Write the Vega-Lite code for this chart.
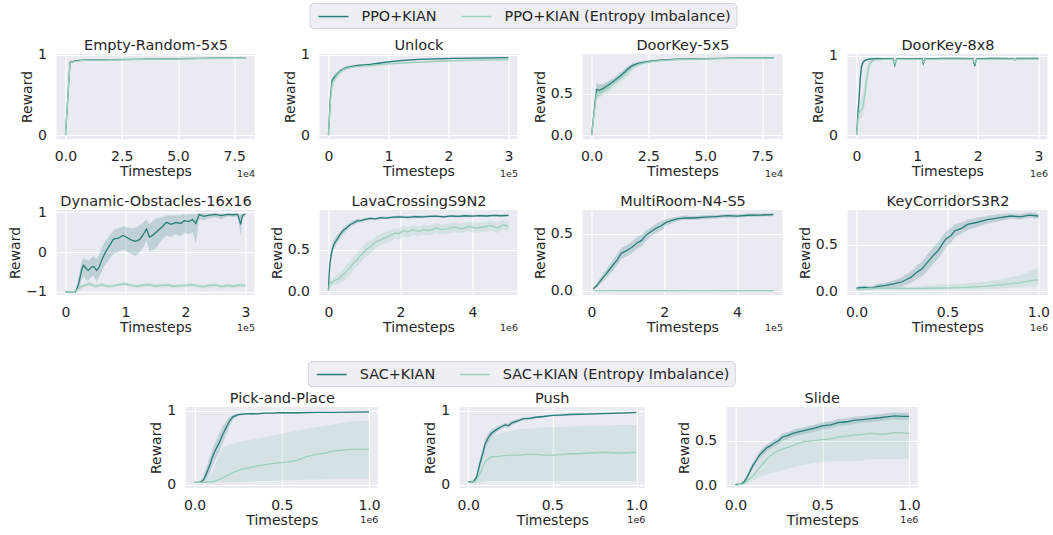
{
"$schema":"https://vega.github.io/schema/vega-lite/v6.json",
"padding":{"left":8,"top":2,"right":2,"bottom":2},
"background":"white",
"datasets":{"d":[
{"p":1,"s":"PPO+KIAN","t":0,"y":0,"lo":0,"hi":0},{"p":1,"s":"PPO+KIAN","t":0.2,"y":0.905,"lo":0.895,"hi":0.915},{"p":1,"s":"PPO+KIAN","t":0.5,"y":0.925,"lo":0.915,"hi":0.935},{"p":1,"s":"PPO+KIAN","t":0.8,"y":0.932,"lo":0.925,"hi":0.94},{"p":1,"s":"PPO+KIAN","t":1.2,"y":0.935,"lo":0.928,"hi":0.942},{"p":1,"s":"PPO+KIAN","t":2,"y":0.938,"lo":0.93,"hi":0.945},{"p":1,"s":"PPO+KIAN","t":3,"y":0.94,"lo":0.933,"hi":0.947},{"p":1,"s":"PPO+KIAN","t":4,"y":0.945,"lo":0.938,"hi":0.952},{"p":1,"s":"PPO+KIAN","t":5,"y":0.95,"lo":0.944,"hi":0.956},{"p":1,"s":"PPO+KIAN","t":6,"y":0.953,"lo":0.947,"hi":0.959},{"p":1,"s":"PPO+KIAN","t":7,"y":0.955,"lo":0.949,"hi":0.961},{"p":1,"s":"PPO+KIAN","t":8,"y":0.958,"lo":0.952,"hi":0.964},
{"p":1,"s":"PPO+KIAN (Entropy Imbalance)","t":0,"y":0,"lo":0,"hi":0},{"p":1,"s":"PPO+KIAN (Entropy Imbalance)","t":0.2,"y":0.9,"lo":0.89,"hi":0.91},{"p":1,"s":"PPO+KIAN (Entropy Imbalance)","t":0.5,"y":0.92,"lo":0.912,"hi":0.928},{"p":1,"s":"PPO+KIAN (Entropy Imbalance)","t":0.8,"y":0.93,"lo":0.922,"hi":0.938},{"p":1,"s":"PPO+KIAN (Entropy Imbalance)","t":1.2,"y":0.932,"lo":0.924,"hi":0.94},{"p":1,"s":"PPO+KIAN (Entropy Imbalance)","t":2,"y":0.935,"lo":0.927,"hi":0.943},{"p":1,"s":"PPO+KIAN (Entropy Imbalance)","t":3,"y":0.938,"lo":0.93,"hi":0.946},{"p":1,"s":"PPO+KIAN (Entropy Imbalance)","t":4,"y":0.942,"lo":0.934,"hi":0.95},{"p":1,"s":"PPO+KIAN (Entropy Imbalance)","t":5,"y":0.946,"lo":0.938,"hi":0.954},{"p":1,"s":"PPO+KIAN (Entropy Imbalance)","t":6,"y":0.95,"lo":0.942,"hi":0.958},{"p":1,"s":"PPO+KIAN (Entropy Imbalance)","t":7,"y":0.953,"lo":0.945,"hi":0.961},{"p":1,"s":"PPO+KIAN (Entropy Imbalance)","t":8,"y":0.955,"lo":0.947,"hi":0.963},
{"p":2,"s":"PPO+KIAN","t":0,"y":0,"lo":0,"hi":0},{"p":2,"s":"PPO+KIAN","t":0.03,"y":0.45,"lo":0.38,"hi":0.52},{"p":2,"s":"PPO+KIAN","t":0.06,"y":0.68,"lo":0.62,"hi":0.72},{"p":2,"s":"PPO+KIAN","t":0.1,"y":0.72,"lo":0.68,"hi":0.76},{"p":2,"s":"PPO+KIAN","t":0.15,"y":0.76,"lo":0.73,"hi":0.79},{"p":2,"s":"PPO+KIAN","t":0.2,"y":0.8,"lo":0.77,"hi":0.82},{"p":2,"s":"PPO+KIAN","t":0.25,"y":0.82,"lo":0.8,"hi":0.84},{"p":2,"s":"PPO+KIAN","t":0.3,"y":0.84,"lo":0.82,"hi":0.86},{"p":2,"s":"PPO+KIAN","t":0.4,"y":0.855,"lo":0.84,"hi":0.87},{"p":2,"s":"PPO+KIAN","t":0.5,"y":0.865,"lo":0.85,"hi":0.88},{"p":2,"s":"PPO+KIAN","t":0.6,"y":0.872,"lo":0.86,"hi":0.885},{"p":2,"s":"PPO+KIAN","t":0.7,"y":0.88,"lo":0.868,"hi":0.892},{"p":2,"s":"PPO+KIAN","t":0.8,"y":0.89,"lo":0.878,"hi":0.9},{"p":2,"s":"PPO+KIAN","t":1,"y":0.91,"lo":0.9,"hi":0.92},{"p":2,"s":"PPO+KIAN","t":1.2,"y":0.925,"lo":0.915,"hi":0.935},{"p":2,"s":"PPO+KIAN","t":1.5,"y":0.94,"lo":0.932,"hi":0.948},{"p":2,"s":"PPO+KIAN","t":1.8,"y":0.948,"lo":0.94,"hi":0.955},{"p":2,"s":"PPO+KIAN","t":2.1,"y":0.953,"lo":0.946,"hi":0.96},{"p":2,"s":"PPO+KIAN","t":2.5,"y":0.958,"lo":0.951,"hi":0.964},{"p":2,"s":"PPO+KIAN","t":3,"y":0.962,"lo":0.955,"hi":0.968},
{"p":2,"s":"PPO+KIAN (Entropy Imbalance)","t":0,"y":0,"lo":0,"hi":0},{"p":2,"s":"PPO+KIAN (Entropy Imbalance)","t":0.03,"y":0.4,"lo":0.3,"hi":0.5},{"p":2,"s":"PPO+KIAN (Entropy Imbalance)","t":0.06,"y":0.64,"lo":0.56,"hi":0.7},{"p":2,"s":"PPO+KIAN (Entropy Imbalance)","t":0.1,"y":0.7,"lo":0.65,"hi":0.75},{"p":2,"s":"PPO+KIAN (Entropy Imbalance)","t":0.15,"y":0.75,"lo":0.71,"hi":0.78},{"p":2,"s":"PPO+KIAN (Entropy Imbalance)","t":0.2,"y":0.79,"lo":0.76,"hi":0.82},{"p":2,"s":"PPO+KIAN (Entropy Imbalance)","t":0.25,"y":0.815,"lo":0.79,"hi":0.835},{"p":2,"s":"PPO+KIAN (Entropy Imbalance)","t":0.3,"y":0.83,"lo":0.81,"hi":0.85},{"p":2,"s":"PPO+KIAN (Entropy Imbalance)","t":0.4,"y":0.845,"lo":0.83,"hi":0.86},{"p":2,"s":"PPO+KIAN (Entropy Imbalance)","t":0.5,"y":0.855,"lo":0.84,"hi":0.87},{"p":2,"s":"PPO+KIAN (Entropy Imbalance)","t":0.6,"y":0.86,"lo":0.845,"hi":0.875},{"p":2,"s":"PPO+KIAN (Entropy Imbalance)","t":0.7,"y":0.865,"lo":0.85,"hi":0.88},{"p":2,"s":"PPO+KIAN (Entropy Imbalance)","t":0.8,"y":0.872,"lo":0.858,"hi":0.886},{"p":2,"s":"PPO+KIAN (Entropy Imbalance)","t":1,"y":0.885,"lo":0.872,"hi":0.898},{"p":2,"s":"PPO+KIAN (Entropy Imbalance)","t":1.2,"y":0.895,"lo":0.882,"hi":0.908},{"p":2,"s":"PPO+KIAN (Entropy Imbalance)","t":1.5,"y":0.908,"lo":0.896,"hi":0.92},{"p":2,"s":"PPO+KIAN (Entropy Imbalance)","t":1.8,"y":0.918,"lo":0.906,"hi":0.93},{"p":2,"s":"PPO+KIAN (Entropy Imbalance)","t":2.1,"y":0.925,"lo":0.914,"hi":0.936},{"p":2,"s":"PPO+KIAN (Entropy Imbalance)","t":2.5,"y":0.932,"lo":0.921,"hi":0.942},{"p":2,"s":"PPO+KIAN (Entropy Imbalance)","t":3,"y":0.936,"lo":0.926,"hi":0.946},
{"p":3,"s":"PPO+KIAN","t":0,"y":0,"lo":0,"hi":0},{"p":3,"s":"PPO+KIAN","t":0.22,"y":0.55,"lo":0.46,"hi":0.63},{"p":3,"s":"PPO+KIAN","t":0.36,"y":0.54,"lo":0.47,"hi":0.61},{"p":3,"s":"PPO+KIAN","t":0.5,"y":0.56,"lo":0.5,"hi":0.62},{"p":3,"s":"PPO+KIAN","t":0.73,"y":0.6,"lo":0.55,"hi":0.65},{"p":3,"s":"PPO+KIAN","t":1.02,"y":0.66,"lo":0.62,"hi":0.7},{"p":3,"s":"PPO+KIAN","t":1.25,"y":0.71,"lo":0.67,"hi":0.75},{"p":3,"s":"PPO+KIAN","t":1.46,"y":0.76,"lo":0.72,"hi":0.8},{"p":3,"s":"PPO+KIAN","t":1.65,"y":0.81,"lo":0.77,"hi":0.84},{"p":3,"s":"PPO+KIAN","t":1.82,"y":0.84,"lo":0.81,"hi":0.87},{"p":3,"s":"PPO+KIAN","t":2.05,"y":0.865,"lo":0.84,"hi":0.885},{"p":3,"s":"PPO+KIAN","t":2.33,"y":0.88,"lo":0.865,"hi":0.895},{"p":3,"s":"PPO+KIAN","t":2.7,"y":0.895,"lo":0.882,"hi":0.906},{"p":3,"s":"PPO+KIAN","t":3.06,"y":0.903,"lo":0.893,"hi":0.912},{"p":3,"s":"PPO+KIAN","t":3.78,"y":0.915,"lo":0.906,"hi":0.922},{"p":3,"s":"PPO+KIAN","t":5,"y":0.922,"lo":0.915,"hi":0.928},{"p":3,"s":"PPO+KIAN","t":6.5,"y":0.928,"lo":0.922,"hi":0.934},{"p":3,"s":"PPO+KIAN","t":8,"y":0.932,"lo":0.926,"hi":0.938},
{"p":3,"s":"PPO+KIAN (Entropy Imbalance)","t":0,"y":0,"lo":0,"hi":0},{"p":3,"s":"PPO+KIAN (Entropy Imbalance)","t":0.22,"y":0.5,"lo":0.42,"hi":0.58},{"p":3,"s":"PPO+KIAN (Entropy Imbalance)","t":0.36,"y":0.52,"lo":0.45,"hi":0.59},{"p":3,"s":"PPO+KIAN (Entropy Imbalance)","t":0.5,"y":0.54,"lo":0.48,"hi":0.6},{"p":3,"s":"PPO+KIAN (Entropy Imbalance)","t":0.73,"y":0.58,"lo":0.52,"hi":0.64},{"p":3,"s":"PPO+KIAN (Entropy Imbalance)","t":1.02,"y":0.63,"lo":0.58,"hi":0.68},{"p":3,"s":"PPO+KIAN (Entropy Imbalance)","t":1.25,"y":0.68,"lo":0.63,"hi":0.73},{"p":3,"s":"PPO+KIAN (Entropy Imbalance)","t":1.46,"y":0.73,"lo":0.68,"hi":0.78},{"p":3,"s":"PPO+KIAN (Entropy Imbalance)","t":1.65,"y":0.78,"lo":0.73,"hi":0.82},{"p":3,"s":"PPO+KIAN (Entropy Imbalance)","t":1.82,"y":0.82,"lo":0.78,"hi":0.85},{"p":3,"s":"PPO+KIAN (Entropy Imbalance)","t":2.05,"y":0.85,"lo":0.82,"hi":0.87},{"p":3,"s":"PPO+KIAN (Entropy Imbalance)","t":2.33,"y":0.87,"lo":0.85,"hi":0.885},{"p":3,"s":"PPO+KIAN (Entropy Imbalance)","t":2.7,"y":0.888,"lo":0.875,"hi":0.9},{"p":3,"s":"PPO+KIAN (Entropy Imbalance)","t":3.06,"y":0.898,"lo":0.887,"hi":0.908},{"p":3,"s":"PPO+KIAN (Entropy Imbalance)","t":3.78,"y":0.91,"lo":0.9,"hi":0.918},{"p":3,"s":"PPO+KIAN (Entropy Imbalance)","t":5,"y":0.918,"lo":0.91,"hi":0.925},{"p":3,"s":"PPO+KIAN (Entropy Imbalance)","t":6.5,"y":0.925,"lo":0.918,"hi":0.931},{"p":3,"s":"PPO+KIAN (Entropy Imbalance)","t":8,"y":0.93,"lo":0.924,"hi":0.936},
{"p":4,"s":"PPO+KIAN","t":0,"y":0,"lo":0,"hi":0},{"p":4,"s":"PPO+KIAN","t":0.02,"y":0.25,"lo":0.15,"hi":0.35},{"p":4,"s":"PPO+KIAN","t":0.04,"y":0.44,"lo":0.35,"hi":0.55},{"p":4,"s":"PPO+KIAN","t":0.06,"y":0.7,"lo":0.6,"hi":0.78},{"p":4,"s":"PPO+KIAN","t":0.08,"y":0.86,"lo":0.8,"hi":0.9},{"p":4,"s":"PPO+KIAN","t":0.11,"y":0.92,"lo":0.89,"hi":0.94},{"p":4,"s":"PPO+KIAN","t":0.14,"y":0.94,"lo":0.925,"hi":0.952},{"p":4,"s":"PPO+KIAN","t":0.2,"y":0.955,"lo":0.945,"hi":0.962},{"p":4,"s":"PPO+KIAN","t":0.3,"y":0.96,"lo":0.952,"hi":0.966},{"p":4,"s":"PPO+KIAN","t":0.45,"y":0.962,"lo":0.955,"hi":0.968},{"p":4,"s":"PPO+KIAN","t":0.6,"y":0.962,"lo":0.955,"hi":0.968},{"p":4,"s":"PPO+KIAN","t":0.63,"y":0.88,"lo":0.84,"hi":0.93},{"p":4,"s":"PPO+KIAN","t":0.66,"y":0.96,"lo":0.952,"hi":0.966},{"p":4,"s":"PPO+KIAN","t":0.8,"y":0.963,"lo":0.956,"hi":0.969},{"p":4,"s":"PPO+KIAN","t":0.95,"y":0.963,"lo":0.956,"hi":0.969},{"p":4,"s":"PPO+KIAN","t":1.08,"y":0.962,"lo":0.955,"hi":0.968},{"p":4,"s":"PPO+KIAN","t":1.1,"y":0.9,"lo":0.86,"hi":0.94},{"p":4,"s":"PPO+KIAN","t":1.13,"y":0.96,"lo":0.952,"hi":0.966},{"p":4,"s":"PPO+KIAN","t":1.3,"y":0.963,"lo":0.957,"hi":0.969},{"p":4,"s":"PPO+KIAN","t":1.5,"y":0.964,"lo":0.958,"hi":0.97},{"p":4,"s":"PPO+KIAN","t":1.7,"y":0.964,"lo":0.958,"hi":0.97},{"p":4,"s":"PPO+KIAN","t":1.92,"y":0.963,"lo":0.957,"hi":0.969},{"p":4,"s":"PPO+KIAN","t":1.95,"y":0.87,"lo":0.83,"hi":0.92},{"p":4,"s":"PPO+KIAN","t":1.98,"y":0.96,"lo":0.952,"hi":0.966},{"p":4,"s":"PPO+KIAN","t":2.2,"y":0.964,"lo":0.958,"hi":0.97},{"p":4,"s":"PPO+KIAN","t":2.4,"y":0.965,"lo":0.959,"hi":0.97},{"p":4,"s":"PPO+KIAN","t":2.58,"y":0.963,"lo":0.957,"hi":0.969},{"p":4,"s":"PPO+KIAN","t":2.61,"y":0.945,"lo":0.93,"hi":0.96},{"p":4,"s":"PPO+KIAN","t":2.64,"y":0.964,"lo":0.958,"hi":0.97},{"p":4,"s":"PPO+KIAN","t":2.8,"y":0.965,"lo":0.959,"hi":0.97},{"p":4,"s":"PPO+KIAN","t":3,"y":0.965,"lo":0.959,"hi":0.97},
{"p":4,"s":"PPO+KIAN (Entropy Imbalance)","t":0,"y":0,"lo":0,"hi":0},{"p":4,"s":"PPO+KIAN (Entropy Imbalance)","t":0.02,"y":0.18,"lo":0.1,"hi":0.28},{"p":4,"s":"PPO+KIAN (Entropy Imbalance)","t":0.04,"y":0.28,"lo":0.2,"hi":0.36},{"p":4,"s":"PPO+KIAN (Entropy Imbalance)","t":0.07,"y":0.31,"lo":0.22,"hi":0.42},{"p":4,"s":"PPO+KIAN (Entropy Imbalance)","t":0.1,"y":0.34,"lo":0.22,"hi":0.5},{"p":4,"s":"PPO+KIAN (Entropy Imbalance)","t":0.13,"y":0.48,"lo":0.35,"hi":0.65},{"p":4,"s":"PPO+KIAN (Entropy Imbalance)","t":0.16,"y":0.66,"lo":0.52,"hi":0.8},{"p":4,"s":"PPO+KIAN (Entropy Imbalance)","t":0.19,"y":0.82,"lo":0.72,"hi":0.9},{"p":4,"s":"PPO+KIAN (Entropy Imbalance)","t":0.22,"y":0.9,"lo":0.85,"hi":0.94},{"p":4,"s":"PPO+KIAN (Entropy Imbalance)","t":0.26,"y":0.935,"lo":0.92,"hi":0.95},{"p":4,"s":"PPO+KIAN (Entropy Imbalance)","t":0.3,"y":0.945,"lo":0.935,"hi":0.955},{"p":4,"s":"PPO+KIAN (Entropy Imbalance)","t":0.45,"y":0.952,"lo":0.944,"hi":0.96},{"p":4,"s":"PPO+KIAN (Entropy Imbalance)","t":0.6,"y":0.953,"lo":0.945,"hi":0.96},{"p":4,"s":"PPO+KIAN (Entropy Imbalance)","t":0.63,"y":0.9,"lo":0.87,"hi":0.935},{"p":4,"s":"PPO+KIAN (Entropy Imbalance)","t":0.66,"y":0.952,"lo":0.944,"hi":0.96},{"p":4,"s":"PPO+KIAN (Entropy Imbalance)","t":0.9,"y":0.954,"lo":0.946,"hi":0.961},{"p":4,"s":"PPO+KIAN (Entropy Imbalance)","t":1.08,"y":0.953,"lo":0.945,"hi":0.96},{"p":4,"s":"PPO+KIAN (Entropy Imbalance)","t":1.1,"y":0.915,"lo":0.89,"hi":0.94},{"p":4,"s":"PPO+KIAN (Entropy Imbalance)","t":1.13,"y":0.952,"lo":0.944,"hi":0.96},{"p":4,"s":"PPO+KIAN (Entropy Imbalance)","t":1.4,"y":0.955,"lo":0.947,"hi":0.962},{"p":4,"s":"PPO+KIAN (Entropy Imbalance)","t":1.7,"y":0.955,"lo":0.947,"hi":0.962},{"p":4,"s":"PPO+KIAN (Entropy Imbalance)","t":1.92,"y":0.954,"lo":0.946,"hi":0.961},{"p":4,"s":"PPO+KIAN (Entropy Imbalance)","t":1.95,"y":0.9,"lo":0.87,"hi":0.93},{"p":4,"s":"PPO+KIAN (Entropy Imbalance)","t":1.98,"y":0.953,"lo":0.945,"hi":0.96},{"p":4,"s":"PPO+KIAN (Entropy Imbalance)","t":2.3,"y":0.955,"lo":0.947,"hi":0.962},{"p":4,"s":"PPO+KIAN (Entropy Imbalance)","t":2.6,"y":0.954,"lo":0.946,"hi":0.961},{"p":4,"s":"PPO+KIAN (Entropy Imbalance)","t":2.8,"y":0.956,"lo":0.948,"hi":0.963},{"p":4,"s":"PPO+KIAN (Entropy Imbalance)","t":3,"y":0.955,"lo":0.947,"hi":0.962},
{"p":5,"s":"PPO+KIAN","t":0,"y":-1,"lo":-1,"hi":-1},{"p":5,"s":"PPO+KIAN","t":0.1,"y":-1,"lo":-1,"hi":-1},{"p":5,"s":"PPO+KIAN","t":0.17,"y":-1,"lo":-1,"hi":-0.98},{"p":5,"s":"PPO+KIAN","t":0.22,"y":-0.8,"lo":-0.95,"hi":-0.6},{"p":5,"s":"PPO+KIAN","t":0.27,"y":-0.45,"lo":-0.7,"hi":-0.25},{"p":5,"s":"PPO+KIAN","t":0.3,"y":-0.33,"lo":-0.6,"hi":-0.15},{"p":5,"s":"PPO+KIAN","t":0.35,"y":-0.42,"lo":-0.7,"hi":-0.2},{"p":5,"s":"PPO+KIAN","t":0.38,"y":-0.46,"lo":-0.72,"hi":-0.22},{"p":5,"s":"PPO+KIAN","t":0.43,"y":-0.38,"lo":-0.62,"hi":-0.15},{"p":5,"s":"PPO+KIAN","t":0.47,"y":-0.36,"lo":-0.6,"hi":-0.1},{"p":5,"s":"PPO+KIAN","t":0.52,"y":-0.46,"lo":-0.75,"hi":-0.18},{"p":5,"s":"PPO+KIAN","t":0.56,"y":-0.38,"lo":-0.62,"hi":-0.05},{"p":5,"s":"PPO+KIAN","t":0.6,"y":-0.22,"lo":-0.5,"hi":0.1},{"p":5,"s":"PPO+KIAN","t":0.65,"y":-0.05,"lo":-0.35,"hi":0.25},{"p":5,"s":"PPO+KIAN","t":0.7,"y":0.08,"lo":-0.25,"hi":0.35},{"p":5,"s":"PPO+KIAN","t":0.75,"y":0.2,"lo":-0.15,"hi":0.45},{"p":5,"s":"PPO+KIAN","t":0.8,"y":0.33,"lo":-0.05,"hi":0.55},{"p":5,"s":"PPO+KIAN","t":0.88,"y":0.35,"lo":0,"hi":0.6},{"p":5,"s":"PPO+KIAN","t":0.96,"y":0.42,"lo":0.05,"hi":0.65},{"p":5,"s":"PPO+KIAN","t":1.03,"y":0.36,"lo":0,"hi":0.62},{"p":5,"s":"PPO+KIAN","t":1.1,"y":0.3,"lo":-0.05,"hi":0.6},{"p":5,"s":"PPO+KIAN","t":1.17,"y":0.27,"lo":-0.1,"hi":0.62},{"p":5,"s":"PPO+KIAN","t":1.24,"y":0.32,"lo":0,"hi":0.68},{"p":5,"s":"PPO+KIAN","t":1.3,"y":0.45,"lo":0.12,"hi":0.75},{"p":5,"s":"PPO+KIAN","t":1.35,"y":0.58,"lo":0.3,"hi":0.82},{"p":5,"s":"PPO+KIAN","t":1.4,"y":0.38,"lo":0,"hi":0.7},{"p":5,"s":"PPO+KIAN","t":1.45,"y":0.42,"lo":0.05,"hi":0.78},{"p":5,"s":"PPO+KIAN","t":1.51,"y":0.5,"lo":0.1,"hi":0.85},{"p":5,"s":"PPO+KIAN","t":1.6,"y":0.62,"lo":0.3,"hi":0.88},{"p":5,"s":"PPO+KIAN","t":1.68,"y":0.75,"lo":0.42,"hi":0.92},{"p":5,"s":"PPO+KIAN","t":1.76,"y":0.7,"lo":0.38,"hi":0.92},{"p":5,"s":"PPO+KIAN","t":1.84,"y":0.75,"lo":0.45,"hi":0.93},{"p":5,"s":"PPO+KIAN","t":1.92,"y":0.72,"lo":0.4,"hi":0.93},{"p":5,"s":"PPO+KIAN","t":1.98,"y":0.79,"lo":0.48,"hi":0.95},{"p":5,"s":"PPO+KIAN","t":2.05,"y":0.77,"lo":0.45,"hi":0.95},{"p":5,"s":"PPO+KIAN","t":2.12,"y":0.82,"lo":0.5,"hi":0.95},{"p":5,"s":"PPO+KIAN","t":2.17,"y":0.72,"lo":0.2,"hi":0.95},{"p":5,"s":"PPO+KIAN","t":2.23,"y":0.95,"lo":0.82,"hi":0.97},{"p":5,"s":"PPO+KIAN","t":2.3,"y":0.9,"lo":0.8,"hi":0.97},{"p":5,"s":"PPO+KIAN","t":2.4,"y":0.93,"lo":0.85,"hi":0.97},{"p":5,"s":"PPO+KIAN","t":2.5,"y":0.95,"lo":0.88,"hi":0.97},{"p":5,"s":"PPO+KIAN","t":2.6,"y":0.92,"lo":0.83,"hi":0.97},{"p":5,"s":"PPO+KIAN","t":2.7,"y":0.95,"lo":0.9,"hi":0.97},{"p":5,"s":"PPO+KIAN","t":2.8,"y":0.94,"lo":0.88,"hi":0.97},{"p":5,"s":"PPO+KIAN","t":2.87,"y":0.95,"lo":0.9,"hi":0.97},{"p":5,"s":"PPO+KIAN","t":2.92,"y":0.7,"lo":0.4,"hi":0.95},{"p":5,"s":"PPO+KIAN","t":2.95,"y":0.93,"lo":0.85,"hi":0.97},{"p":5,"s":"PPO+KIAN","t":3,"y":0.95,"lo":0.9,"hi":0.97},
{"p":5,"s":"PPO+KIAN (Entropy Imbalance)","t":0,"y":-1,"lo":-1,"hi":-1},{"p":5,"s":"PPO+KIAN (Entropy Imbalance)","t":0.1,"y":-1,"lo":-1,"hi":-1},{"p":5,"s":"PPO+KIAN (Entropy Imbalance)","t":0.15,"y":-0.99,"lo":-1,"hi":-0.97},{"p":5,"s":"PPO+KIAN (Entropy Imbalance)","t":0.2,"y":-0.94,"lo":-0.99,"hi":-0.88},{"p":5,"s":"PPO+KIAN (Entropy Imbalance)","t":0.25,"y":-0.88,"lo":-0.94,"hi":-0.82},{"p":5,"s":"PPO+KIAN (Entropy Imbalance)","t":0.3,"y":-0.85,"lo":-0.9,"hi":-0.8},{"p":5,"s":"PPO+KIAN (Entropy Imbalance)","t":0.35,"y":-0.82,"lo":-0.88,"hi":-0.76},{"p":5,"s":"PPO+KIAN (Entropy Imbalance)","t":0.4,"y":-0.8,"lo":-0.86,"hi":-0.74},{"p":5,"s":"PPO+KIAN (Entropy Imbalance)","t":0.45,"y":-0.83,"lo":-0.88,"hi":-0.78},{"p":5,"s":"PPO+KIAN (Entropy Imbalance)","t":0.5,"y":-0.86,"lo":-0.91,"hi":-0.81},{"p":5,"s":"PPO+KIAN (Entropy Imbalance)","t":0.6,"y":-0.82,"lo":-0.87,"hi":-0.77},{"p":5,"s":"PPO+KIAN (Entropy Imbalance)","t":0.7,"y":-0.86,"lo":-0.91,"hi":-0.81},{"p":5,"s":"PPO+KIAN (Entropy Imbalance)","t":0.8,"y":-0.85,"lo":-0.9,"hi":-0.8},{"p":5,"s":"PPO+KIAN (Entropy Imbalance)","t":0.9,"y":-0.81,"lo":-0.86,"hi":-0.76},{"p":5,"s":"PPO+KIAN (Entropy Imbalance)","t":1,"y":-0.8,"lo":-0.85,"hi":-0.75},{"p":5,"s":"PPO+KIAN (Entropy Imbalance)","t":1.1,"y":-0.84,"lo":-0.89,"hi":-0.79},{"p":5,"s":"PPO+KIAN (Entropy Imbalance)","t":1.2,"y":-0.86,"lo":-0.91,"hi":-0.81},{"p":5,"s":"PPO+KIAN (Entropy Imbalance)","t":1.3,"y":-0.83,"lo":-0.88,"hi":-0.78},{"p":5,"s":"PPO+KIAN (Entropy Imbalance)","t":1.4,"y":-0.82,"lo":-0.87,"hi":-0.77},{"p":5,"s":"PPO+KIAN (Entropy Imbalance)","t":1.5,"y":-0.86,"lo":-0.91,"hi":-0.81},{"p":5,"s":"PPO+KIAN (Entropy Imbalance)","t":1.6,"y":-0.84,"lo":-0.89,"hi":-0.79},{"p":5,"s":"PPO+KIAN (Entropy Imbalance)","t":1.7,"y":-0.83,"lo":-0.88,"hi":-0.78},{"p":5,"s":"PPO+KIAN (Entropy Imbalance)","t":1.8,"y":-0.86,"lo":-0.91,"hi":-0.81},{"p":5,"s":"PPO+KIAN (Entropy Imbalance)","t":1.9,"y":-0.85,"lo":-0.9,"hi":-0.8},{"p":5,"s":"PPO+KIAN (Entropy Imbalance)","t":2,"y":-0.84,"lo":-0.89,"hi":-0.79},{"p":5,"s":"PPO+KIAN (Entropy Imbalance)","t":2.1,"y":-0.82,"lo":-0.87,"hi":-0.77},{"p":5,"s":"PPO+KIAN (Entropy Imbalance)","t":2.2,"y":-0.85,"lo":-0.9,"hi":-0.8},{"p":5,"s":"PPO+KIAN (Entropy Imbalance)","t":2.3,"y":-0.87,"lo":-0.92,"hi":-0.82},{"p":5,"s":"PPO+KIAN (Entropy Imbalance)","t":2.4,"y":-0.84,"lo":-0.89,"hi":-0.79},{"p":5,"s":"PPO+KIAN (Entropy Imbalance)","t":2.5,"y":-0.83,"lo":-0.88,"hi":-0.78},{"p":5,"s":"PPO+KIAN (Entropy Imbalance)","t":2.6,"y":-0.87,"lo":-0.92,"hi":-0.82},{"p":5,"s":"PPO+KIAN (Entropy Imbalance)","t":2.7,"y":-0.84,"lo":-0.89,"hi":-0.79},{"p":5,"s":"PPO+KIAN (Entropy Imbalance)","t":2.8,"y":-0.86,"lo":-0.91,"hi":-0.81},{"p":5,"s":"PPO+KIAN (Entropy Imbalance)","t":2.9,"y":-0.83,"lo":-0.88,"hi":-0.78},{"p":5,"s":"PPO+KIAN (Entropy Imbalance)","t":3,"y":-0.85,"lo":-0.9,"hi":-0.8},
{"p":6,"s":"PPO+KIAN","t":0,"y":0,"lo":0,"hi":0},{"p":6,"s":"PPO+KIAN","t":0.02,"y":0.22,"lo":0.15,"hi":0.3},{"p":6,"s":"PPO+KIAN","t":0.04,"y":0.33,"lo":0.26,"hi":0.4},{"p":6,"s":"PPO+KIAN","t":0.08,"y":0.45,"lo":0.39,"hi":0.51},{"p":6,"s":"PPO+KIAN","t":0.12,"y":0.52,"lo":0.46,"hi":0.58},{"p":6,"s":"PPO+KIAN","t":0.16,"y":0.57,"lo":0.52,"hi":0.63},{"p":6,"s":"PPO+KIAN","t":0.23,"y":0.62,"lo":0.57,"hi":0.67},{"p":6,"s":"PPO+KIAN","t":0.32,"y":0.68,"lo":0.63,"hi":0.72},{"p":6,"s":"PPO+KIAN","t":0.41,"y":0.73,"lo":0.69,"hi":0.77},{"p":6,"s":"PPO+KIAN","t":0.5,"y":0.76,"lo":0.72,"hi":0.8},{"p":6,"s":"PPO+KIAN","t":0.6,"y":0.8,"lo":0.77,"hi":0.83},{"p":6,"s":"PPO+KIAN","t":0.69,"y":0.82,"lo":0.79,"hi":0.85},{"p":6,"s":"PPO+KIAN","t":0.8,"y":0.845,"lo":0.82,"hi":0.87},{"p":6,"s":"PPO+KIAN","t":0.9,"y":0.85,"lo":0.83,"hi":0.87},{"p":6,"s":"PPO+KIAN","t":1,"y":0.86,"lo":0.84,"hi":0.88},{"p":6,"s":"PPO+KIAN","t":1.15,"y":0.875,"lo":0.86,"hi":0.89},{"p":6,"s":"PPO+KIAN","t":1.3,"y":0.87,"lo":0.855,"hi":0.885},{"p":6,"s":"PPO+KIAN","t":1.45,"y":0.885,"lo":0.87,"hi":0.9},{"p":6,"s":"PPO+KIAN","t":1.6,"y":0.88,"lo":0.865,"hi":0.895},{"p":6,"s":"PPO+KIAN","t":1.8,"y":0.89,"lo":0.875,"hi":0.905},{"p":6,"s":"PPO+KIAN","t":2,"y":0.895,"lo":0.88,"hi":0.91},{"p":6,"s":"PPO+KIAN","t":2.2,"y":0.888,"lo":0.873,"hi":0.903},{"p":6,"s":"PPO+KIAN","t":2.4,"y":0.897,"lo":0.882,"hi":0.912},{"p":6,"s":"PPO+KIAN","t":2.6,"y":0.893,"lo":0.878,"hi":0.908},{"p":6,"s":"PPO+KIAN","t":2.8,"y":0.9,"lo":0.886,"hi":0.914},{"p":6,"s":"PPO+KIAN","t":3,"y":0.903,"lo":0.889,"hi":0.917},{"p":6,"s":"PPO+KIAN","t":3.2,"y":0.895,"lo":0.881,"hi":0.909},{"p":6,"s":"PPO+KIAN","t":3.4,"y":0.905,"lo":0.891,"hi":0.919},{"p":6,"s":"PPO+KIAN","t":3.6,"y":0.9,"lo":0.886,"hi":0.914},{"p":6,"s":"PPO+KIAN","t":3.8,"y":0.908,"lo":0.894,"hi":0.922},{"p":6,"s":"PPO+KIAN","t":4,"y":0.903,"lo":0.889,"hi":0.917},{"p":6,"s":"PPO+KIAN","t":4.2,"y":0.91,"lo":0.896,"hi":0.924},{"p":6,"s":"PPO+KIAN","t":4.4,"y":0.905,"lo":0.891,"hi":0.919},{"p":6,"s":"PPO+KIAN","t":4.6,"y":0.912,"lo":0.898,"hi":0.926},{"p":6,"s":"PPO+KIAN","t":4.8,"y":0.908,"lo":0.894,"hi":0.922},{"p":6,"s":"PPO+KIAN","t":5,"y":0.913,"lo":0.899,"hi":0.927},
{"p":6,"s":"PPO+KIAN (Entropy Imbalance)","t":0,"y":0,"lo":0,"hi":0},{"p":6,"s":"PPO+KIAN (Entropy Imbalance)","t":0.03,"y":0.08,"lo":0.04,"hi":0.12},{"p":6,"s":"PPO+KIAN (Entropy Imbalance)","t":0.06,"y":0.1,"lo":0.06,"hi":0.14},{"p":6,"s":"PPO+KIAN (Entropy Imbalance)","t":0.1,"y":0.1,"lo":0.06,"hi":0.15},{"p":6,"s":"PPO+KIAN (Entropy Imbalance)","t":0.15,"y":0.12,"lo":0.07,"hi":0.17},{"p":6,"s":"PPO+KIAN (Entropy Imbalance)","t":0.23,"y":0.14,"lo":0.08,"hi":0.2},{"p":6,"s":"PPO+KIAN (Entropy Imbalance)","t":0.3,"y":0.15,"lo":0.09,"hi":0.22},{"p":6,"s":"PPO+KIAN (Entropy Imbalance)","t":0.37,"y":0.19,"lo":0.12,"hi":0.26},{"p":6,"s":"PPO+KIAN (Entropy Imbalance)","t":0.45,"y":0.21,"lo":0.14,"hi":0.29},{"p":6,"s":"PPO+KIAN (Entropy Imbalance)","t":0.52,"y":0.25,"lo":0.17,"hi":0.33},{"p":6,"s":"PPO+KIAN (Entropy Imbalance)","t":0.6,"y":0.28,"lo":0.2,"hi":0.36},{"p":6,"s":"PPO+KIAN (Entropy Imbalance)","t":0.68,"y":0.33,"lo":0.25,"hi":0.41},{"p":6,"s":"PPO+KIAN (Entropy Imbalance)","t":0.78,"y":0.37,"lo":0.29,"hi":0.45},{"p":6,"s":"PPO+KIAN (Entropy Imbalance)","t":0.87,"y":0.42,"lo":0.34,"hi":0.5},{"p":6,"s":"PPO+KIAN (Entropy Imbalance)","t":0.95,"y":0.45,"lo":0.37,"hi":0.53},{"p":6,"s":"PPO+KIAN (Entropy Imbalance)","t":1.05,"y":0.5,"lo":0.42,"hi":0.58},{"p":6,"s":"PPO+KIAN (Entropy Imbalance)","t":1.15,"y":0.53,"lo":0.45,"hi":0.61},{"p":6,"s":"PPO+KIAN (Entropy Imbalance)","t":1.25,"y":0.57,"lo":0.49,"hi":0.64},{"p":6,"s":"PPO+KIAN (Entropy Imbalance)","t":1.35,"y":0.6,"lo":0.53,"hi":0.67},{"p":6,"s":"PPO+KIAN (Entropy Imbalance)","t":1.47,"y":0.62,"lo":0.55,"hi":0.69},{"p":6,"s":"PPO+KIAN (Entropy Imbalance)","t":1.6,"y":0.65,"lo":0.58,"hi":0.72},{"p":6,"s":"PPO+KIAN (Entropy Imbalance)","t":1.72,"y":0.67,"lo":0.6,"hi":0.74},{"p":6,"s":"PPO+KIAN (Entropy Imbalance)","t":1.85,"y":0.7,"lo":0.63,"hi":0.76},{"p":6,"s":"PPO+KIAN (Entropy Imbalance)","t":1.96,"y":0.69,"lo":0.62,"hi":0.75},{"p":6,"s":"PPO+KIAN (Entropy Imbalance)","t":2.07,"y":0.73,"lo":0.66,"hi":0.79},{"p":6,"s":"PPO+KIAN (Entropy Imbalance)","t":2.2,"y":0.71,"lo":0.64,"hi":0.77},{"p":6,"s":"PPO+KIAN (Entropy Imbalance)","t":2.35,"y":0.74,"lo":0.68,"hi":0.8},{"p":6,"s":"PPO+KIAN (Entropy Imbalance)","t":2.5,"y":0.72,"lo":0.66,"hi":0.78},{"p":6,"s":"PPO+KIAN (Entropy Imbalance)","t":2.65,"y":0.74,"lo":0.68,"hi":0.8},{"p":6,"s":"PPO+KIAN (Entropy Imbalance)","t":2.8,"y":0.73,"lo":0.67,"hi":0.79},{"p":6,"s":"PPO+KIAN (Entropy Imbalance)","t":3,"y":0.76,"lo":0.7,"hi":0.82},{"p":6,"s":"PPO+KIAN (Entropy Imbalance)","t":3.15,"y":0.74,"lo":0.68,"hi":0.8},{"p":6,"s":"PPO+KIAN (Entropy Imbalance)","t":3.3,"y":0.75,"lo":0.69,"hi":0.81},{"p":6,"s":"PPO+KIAN (Entropy Imbalance)","t":3.5,"y":0.77,"lo":0.71,"hi":0.83},{"p":6,"s":"PPO+KIAN (Entropy Imbalance)","t":3.7,"y":0.75,"lo":0.69,"hi":0.81},{"p":6,"s":"PPO+KIAN (Entropy Imbalance)","t":3.9,"y":0.78,"lo":0.72,"hi":0.84},{"p":6,"s":"PPO+KIAN (Entropy Imbalance)","t":4.1,"y":0.76,"lo":0.7,"hi":0.82},{"p":6,"s":"PPO+KIAN (Entropy Imbalance)","t":4.3,"y":0.77,"lo":0.71,"hi":0.83},{"p":6,"s":"PPO+KIAN (Entropy Imbalance)","t":4.5,"y":0.79,"lo":0.73,"hi":0.85},{"p":6,"s":"PPO+KIAN (Entropy Imbalance)","t":4.7,"y":0.76,"lo":0.7,"hi":0.82},{"p":6,"s":"PPO+KIAN (Entropy Imbalance)","t":4.85,"y":0.8,"lo":0.74,"hi":0.86},{"p":6,"s":"PPO+KIAN (Entropy Imbalance)","t":5,"y":0.78,"lo":0.72,"hi":0.84},
{"p":7,"s":"PPO+KIAN","t":0.05,"y":0.02,"lo":0.01,"hi":0.03},{"p":7,"s":"PPO+KIAN","t":0.15,"y":0.05,"lo":0.03,"hi":0.07},{"p":7,"s":"PPO+KIAN","t":0.27,"y":0.1,"lo":0.07,"hi":0.13},{"p":7,"s":"PPO+KIAN","t":0.4,"y":0.15,"lo":0.11,"hi":0.19},{"p":7,"s":"PPO+KIAN","t":0.5,"y":0.19,"lo":0.15,"hi":0.23},{"p":7,"s":"PPO+KIAN","t":0.6,"y":0.23,"lo":0.18,"hi":0.28},{"p":7,"s":"PPO+KIAN","t":0.7,"y":0.27,"lo":0.22,"hi":0.32},{"p":7,"s":"PPO+KIAN","t":0.82,"y":0.33,"lo":0.28,"hi":0.38},{"p":7,"s":"PPO+KIAN","t":0.95,"y":0.35,"lo":0.3,"hi":0.4},{"p":7,"s":"PPO+KIAN","t":1.1,"y":0.38,"lo":0.33,"hi":0.43},{"p":7,"s":"PPO+KIAN","t":1.25,"y":0.42,"lo":0.37,"hi":0.47},{"p":7,"s":"PPO+KIAN","t":1.37,"y":0.44,"lo":0.39,"hi":0.49},{"p":7,"s":"PPO+KIAN","t":1.5,"y":0.49,"lo":0.44,"hi":0.53},{"p":7,"s":"PPO+KIAN","t":1.64,"y":0.52,"lo":0.48,"hi":0.56},{"p":7,"s":"PPO+KIAN","t":1.78,"y":0.55,"lo":0.51,"hi":0.59},{"p":7,"s":"PPO+KIAN","t":1.92,"y":0.57,"lo":0.53,"hi":0.61},{"p":7,"s":"PPO+KIAN","t":2.05,"y":0.6,"lo":0.57,"hi":0.63},{"p":7,"s":"PPO+KIAN","t":2.19,"y":0.615,"lo":0.59,"hi":0.64},{"p":7,"s":"PPO+KIAN","t":2.35,"y":0.63,"lo":0.61,"hi":0.65},{"p":7,"s":"PPO+KIAN","t":2.56,"y":0.64,"lo":0.62,"hi":0.66},{"p":7,"s":"PPO+KIAN","t":2.8,"y":0.638,"lo":0.62,"hi":0.656},{"p":7,"s":"PPO+KIAN","t":3.1,"y":0.645,"lo":0.628,"hi":0.662},{"p":7,"s":"PPO+KIAN","t":3.4,"y":0.65,"lo":0.634,"hi":0.666},{"p":7,"s":"PPO+KIAN","t":3.74,"y":0.658,"lo":0.642,"hi":0.674},{"p":7,"s":"PPO+KIAN","t":4,"y":0.655,"lo":0.64,"hi":0.67},{"p":7,"s":"PPO+KIAN","t":4.3,"y":0.662,"lo":0.647,"hi":0.677},{"p":7,"s":"PPO+KIAN","t":4.66,"y":0.664,"lo":0.65,"hi":0.678},{"p":7,"s":"PPO+KIAN","t":5,"y":0.668,"lo":0.654,"hi":0.682},
{"p":7,"s":"PPO+KIAN (Entropy Imbalance)","t":0.05,"y":0.001,"lo":0,"hi":0.004},{"p":7,"s":"PPO+KIAN (Entropy Imbalance)","t":1,"y":0.002,"lo":0,"hi":0.005},{"p":7,"s":"PPO+KIAN (Entropy Imbalance)","t":2,"y":0.002,"lo":0,"hi":0.005},{"p":7,"s":"PPO+KIAN (Entropy Imbalance)","t":3,"y":0.001,"lo":0,"hi":0.004},{"p":7,"s":"PPO+KIAN (Entropy Imbalance)","t":4,"y":0.002,"lo":0,"hi":0.005},{"p":7,"s":"PPO+KIAN (Entropy Imbalance)","t":5,"y":0.002,"lo":0,"hi":0.005},
{"p":8,"s":"PPO+KIAN","t":0,"y":0.03,"lo":0.01,"hi":0.05},{"p":8,"s":"PPO+KIAN","t":0.04,"y":0.04,"lo":0.02,"hi":0.06},{"p":8,"s":"PPO+KIAN","t":0.08,"y":0.03,"lo":0.01,"hi":0.05},{"p":8,"s":"PPO+KIAN","t":0.12,"y":0.05,"lo":0.03,"hi":0.08},{"p":8,"s":"PPO+KIAN","t":0.16,"y":0.06,"lo":0.03,"hi":0.09},{"p":8,"s":"PPO+KIAN","t":0.21,"y":0.08,"lo":0.04,"hi":0.12},{"p":8,"s":"PPO+KIAN","t":0.25,"y":0.1,"lo":0.05,"hi":0.15},{"p":8,"s":"PPO+KIAN","t":0.28,"y":0.13,"lo":0.07,"hi":0.19},{"p":8,"s":"PPO+KIAN","t":0.3,"y":0.15,"lo":0.09,"hi":0.21},{"p":8,"s":"PPO+KIAN","t":0.33,"y":0.2,"lo":0.13,"hi":0.27},{"p":8,"s":"PPO+KIAN","t":0.36,"y":0.24,"lo":0.16,"hi":0.32},{"p":8,"s":"PPO+KIAN","t":0.39,"y":0.31,"lo":0.22,"hi":0.4},{"p":8,"s":"PPO+KIAN","t":0.42,"y":0.38,"lo":0.29,"hi":0.47},{"p":8,"s":"PPO+KIAN","t":0.45,"y":0.44,"lo":0.35,"hi":0.53},{"p":8,"s":"PPO+KIAN","t":0.47,"y":0.5,"lo":0.41,"hi":0.59},{"p":8,"s":"PPO+KIAN","t":0.49,"y":0.56,"lo":0.47,"hi":0.64},{"p":8,"s":"PPO+KIAN","t":0.52,"y":0.6,"lo":0.52,"hi":0.68},{"p":8,"s":"PPO+KIAN","t":0.54,"y":0.65,"lo":0.58,"hi":0.72},{"p":8,"s":"PPO+KIAN","t":0.58,"y":0.68,"lo":0.62,"hi":0.74},{"p":8,"s":"PPO+KIAN","t":0.61,"y":0.72,"lo":0.66,"hi":0.77},{"p":8,"s":"PPO+KIAN","t":0.66,"y":0.74,"lo":0.69,"hi":0.79},{"p":8,"s":"PPO+KIAN","t":0.72,"y":0.77,"lo":0.73,"hi":0.81},{"p":8,"s":"PPO+KIAN","t":0.78,"y":0.79,"lo":0.75,"hi":0.83},{"p":8,"s":"PPO+KIAN","t":0.85,"y":0.81,"lo":0.78,"hi":0.84},{"p":8,"s":"PPO+KIAN","t":0.9,"y":0.8,"lo":0.77,"hi":0.83},{"p":8,"s":"PPO+KIAN","t":0.95,"y":0.82,"lo":0.79,"hi":0.85},{"p":8,"s":"PPO+KIAN","t":1,"y":0.81,"lo":0.78,"hi":0.84},
{"p":8,"s":"PPO+KIAN (Entropy Imbalance)","t":0,"y":0.02,"lo":0,"hi":0.04},{"p":8,"s":"PPO+KIAN (Entropy Imbalance)","t":0.1,"y":0.03,"lo":0.01,"hi":0.05},{"p":8,"s":"PPO+KIAN (Entropy Imbalance)","t":0.2,"y":0.03,"lo":0.01,"hi":0.05},{"p":8,"s":"PPO+KIAN (Entropy Imbalance)","t":0.3,"y":0.025,"lo":0.01,"hi":0.045},{"p":8,"s":"PPO+KIAN (Entropy Imbalance)","t":0.4,"y":0.03,"lo":0.01,"hi":0.06},{"p":8,"s":"PPO+KIAN (Entropy Imbalance)","t":0.5,"y":0.035,"lo":0.01,"hi":0.07},{"p":8,"s":"PPO+KIAN (Entropy Imbalance)","t":0.6,"y":0.04,"lo":0.01,"hi":0.08},{"p":8,"s":"PPO+KIAN (Entropy Imbalance)","t":0.7,"y":0.05,"lo":0.02,"hi":0.1},{"p":8,"s":"PPO+KIAN (Entropy Imbalance)","t":0.8,"y":0.07,"lo":0.03,"hi":0.13},{"p":8,"s":"PPO+KIAN (Entropy Imbalance)","t":0.9,"y":0.09,"lo":0.04,"hi":0.17},{"p":8,"s":"PPO+KIAN (Entropy Imbalance)","t":0.95,"y":0.11,"lo":0.05,"hi":0.21},{"p":8,"s":"PPO+KIAN (Entropy Imbalance)","t":1,"y":0.12,"lo":0.06,"hi":0.25},
{"p":9,"s":"SAC+KIAN","t":0,"y":0.03,"lo":0.02,"hi":0.04},{"p":9,"s":"SAC+KIAN","t":0.03,"y":0.03,"lo":0.02,"hi":0.04},{"p":9,"s":"SAC+KIAN","t":0.05,"y":0.06,"lo":0.03,"hi":0.1},{"p":9,"s":"SAC+KIAN","t":0.07,"y":0.16,"lo":0.08,"hi":0.25},{"p":9,"s":"SAC+KIAN","t":0.09,"y":0.28,"lo":0.17,"hi":0.39},{"p":9,"s":"SAC+KIAN","t":0.1,"y":0.36,"lo":0.24,"hi":0.47},{"p":9,"s":"SAC+KIAN","t":0.12,"y":0.47,"lo":0.35,"hi":0.58},{"p":9,"s":"SAC+KIAN","t":0.14,"y":0.56,"lo":0.44,"hi":0.68},{"p":9,"s":"SAC+KIAN","t":0.16,"y":0.67,"lo":0.56,"hi":0.78},{"p":9,"s":"SAC+KIAN","t":0.18,"y":0.77,"lo":0.67,"hi":0.86},{"p":9,"s":"SAC+KIAN","t":0.2,"y":0.86,"lo":0.79,"hi":0.92},{"p":9,"s":"SAC+KIAN","t":0.22,"y":0.92,"lo":0.88,"hi":0.95},{"p":9,"s":"SAC+KIAN","t":0.25,"y":0.95,"lo":0.93,"hi":0.965},{"p":9,"s":"SAC+KIAN","t":0.28,"y":0.958,"lo":0.945,"hi":0.97},{"p":9,"s":"SAC+KIAN","t":0.32,"y":0.965,"lo":0.955,"hi":0.975},{"p":9,"s":"SAC+KIAN","t":0.36,"y":0.962,"lo":0.952,"hi":0.972},{"p":9,"s":"SAC+KIAN","t":0.4,"y":0.972,"lo":0.962,"hi":0.98},{"p":9,"s":"SAC+KIAN","t":0.45,"y":0.97,"lo":0.96,"hi":0.978},{"p":9,"s":"SAC+KIAN","t":0.5,"y":0.978,"lo":0.97,"hi":0.985},{"p":9,"s":"SAC+KIAN","t":0.6,"y":0.976,"lo":0.968,"hi":0.984},{"p":9,"s":"SAC+KIAN","t":0.7,"y":0.982,"lo":0.975,"hi":0.989},{"p":9,"s":"SAC+KIAN","t":0.8,"y":0.98,"lo":0.973,"hi":0.987},{"p":9,"s":"SAC+KIAN","t":0.9,"y":0.985,"lo":0.978,"hi":0.991},{"p":9,"s":"SAC+KIAN","t":1,"y":0.987,"lo":0.98,"hi":0.993},
{"p":9,"s":"SAC+KIAN (Entropy Imbalance)","t":0,"y":0.03,"lo":0.02,"hi":0.04},{"p":9,"s":"SAC+KIAN (Entropy Imbalance)","t":0.05,"y":0.03,"lo":0.02,"hi":0.05},{"p":9,"s":"SAC+KIAN (Entropy Imbalance)","t":0.1,"y":0.04,"lo":0.02,"hi":0.15},{"p":9,"s":"SAC+KIAN (Entropy Imbalance)","t":0.13,"y":0.06,"lo":0.03,"hi":0.35},{"p":9,"s":"SAC+KIAN (Entropy Imbalance)","t":0.16,"y":0.09,"lo":0.03,"hi":0.5},{"p":9,"s":"SAC+KIAN (Entropy Imbalance)","t":0.21,"y":0.15,"lo":0.03,"hi":0.55},{"p":9,"s":"SAC+KIAN (Entropy Imbalance)","t":0.26,"y":0.2,"lo":0.04,"hi":0.58},{"p":9,"s":"SAC+KIAN (Entropy Imbalance)","t":0.3,"y":0.22,"lo":0.04,"hi":0.6},{"p":9,"s":"SAC+KIAN (Entropy Imbalance)","t":0.35,"y":0.25,"lo":0.05,"hi":0.62},{"p":9,"s":"SAC+KIAN (Entropy Imbalance)","t":0.4,"y":0.27,"lo":0.05,"hi":0.64},{"p":9,"s":"SAC+KIAN (Entropy Imbalance)","t":0.45,"y":0.29,"lo":0.05,"hi":0.67},{"p":9,"s":"SAC+KIAN (Entropy Imbalance)","t":0.5,"y":0.3,"lo":0.06,"hi":0.69},{"p":9,"s":"SAC+KIAN (Entropy Imbalance)","t":0.54,"y":0.31,"lo":0.06,"hi":0.71},{"p":9,"s":"SAC+KIAN (Entropy Imbalance)","t":0.6,"y":0.34,"lo":0.06,"hi":0.74},{"p":9,"s":"SAC+KIAN (Entropy Imbalance)","t":0.64,"y":0.38,"lo":0.07,"hi":0.76},{"p":9,"s":"SAC+KIAN (Entropy Imbalance)","t":0.7,"y":0.41,"lo":0.07,"hi":0.78},{"p":9,"s":"SAC+KIAN (Entropy Imbalance)","t":0.75,"y":0.43,"lo":0.07,"hi":0.8},{"p":9,"s":"SAC+KIAN (Entropy Imbalance)","t":0.8,"y":0.46,"lo":0.08,"hi":0.82},{"p":9,"s":"SAC+KIAN (Entropy Imbalance)","t":0.85,"y":0.47,"lo":0.08,"hi":0.84},{"p":9,"s":"SAC+KIAN (Entropy Imbalance)","t":0.9,"y":0.48,"lo":0.08,"hi":0.86},{"p":9,"s":"SAC+KIAN (Entropy Imbalance)","t":1,"y":0.48,"lo":0.08,"hi":0.87},
{"p":10,"s":"SAC+KIAN","t":0,"y":0.04,"lo":0.03,"hi":0.05},{"p":10,"s":"SAC+KIAN","t":0.03,"y":0.04,"lo":0.03,"hi":0.05},{"p":10,"s":"SAC+KIAN","t":0.05,"y":0.1,"lo":0.06,"hi":0.15},{"p":10,"s":"SAC+KIAN","t":0.07,"y":0.29,"lo":0.22,"hi":0.36},{"p":10,"s":"SAC+KIAN","t":0.09,"y":0.45,"lo":0.38,"hi":0.52},{"p":10,"s":"SAC+KIAN","t":0.1,"y":0.55,"lo":0.48,"hi":0.62},{"p":10,"s":"SAC+KIAN","t":0.12,"y":0.64,"lo":0.58,"hi":0.7},{"p":10,"s":"SAC+KIAN","t":0.14,"y":0.7,"lo":0.65,"hi":0.75},{"p":10,"s":"SAC+KIAN","t":0.17,"y":0.75,"lo":0.71,"hi":0.79},{"p":10,"s":"SAC+KIAN","t":0.2,"y":0.79,"lo":0.76,"hi":0.82},{"p":10,"s":"SAC+KIAN","t":0.22,"y":0.81,"lo":0.78,"hi":0.84},{"p":10,"s":"SAC+KIAN","t":0.24,"y":0.8,"lo":0.77,"hi":0.83},{"p":10,"s":"SAC+KIAN","t":0.26,"y":0.84,"lo":0.81,"hi":0.87},{"p":10,"s":"SAC+KIAN","t":0.3,"y":0.87,"lo":0.85,"hi":0.89},{"p":10,"s":"SAC+KIAN","t":0.33,"y":0.895,"lo":0.875,"hi":0.915},{"p":10,"s":"SAC+KIAN","t":0.37,"y":0.9,"lo":0.88,"hi":0.92},{"p":10,"s":"SAC+KIAN","t":0.4,"y":0.915,"lo":0.9,"hi":0.93},{"p":10,"s":"SAC+KIAN","t":0.45,"y":0.925,"lo":0.91,"hi":0.94},{"p":10,"s":"SAC+KIAN","t":0.5,"y":0.94,"lo":0.927,"hi":0.953},{"p":10,"s":"SAC+KIAN","t":0.55,"y":0.945,"lo":0.933,"hi":0.957},{"p":10,"s":"SAC+KIAN","t":0.6,"y":0.952,"lo":0.94,"hi":0.963},{"p":10,"s":"SAC+KIAN","t":0.7,"y":0.958,"lo":0.947,"hi":0.968},{"p":10,"s":"SAC+KIAN","t":0.8,"y":0.965,"lo":0.955,"hi":0.975},{"p":10,"s":"SAC+KIAN","t":0.9,"y":0.972,"lo":0.962,"hi":0.981},{"p":10,"s":"SAC+KIAN","t":1,"y":0.98,"lo":0.97,"hi":0.988},
{"p":10,"s":"SAC+KIAN (Entropy Imbalance)","t":0,"y":0.03,"lo":0.02,"hi":0.04},{"p":10,"s":"SAC+KIAN (Entropy Imbalance)","t":0.04,"y":0.04,"lo":0.02,"hi":0.08},{"p":10,"s":"SAC+KIAN (Entropy Imbalance)","t":0.06,"y":0.1,"lo":0.03,"hi":0.25},{"p":10,"s":"SAC+KIAN (Entropy Imbalance)","t":0.08,"y":0.2,"lo":0.04,"hi":0.42},{"p":10,"s":"SAC+KIAN (Entropy Imbalance)","t":0.1,"y":0.31,"lo":0.05,"hi":0.52},{"p":10,"s":"SAC+KIAN (Entropy Imbalance)","t":0.12,"y":0.35,"lo":0.05,"hi":0.6},{"p":10,"s":"SAC+KIAN (Entropy Imbalance)","t":0.14,"y":0.38,"lo":0.05,"hi":0.65},{"p":10,"s":"SAC+KIAN (Entropy Imbalance)","t":0.17,"y":0.38,"lo":0.05,"hi":0.68},{"p":10,"s":"SAC+KIAN (Entropy Imbalance)","t":0.2,"y":0.39,"lo":0.05,"hi":0.7},{"p":10,"s":"SAC+KIAN (Entropy Imbalance)","t":0.25,"y":0.4,"lo":0.05,"hi":0.73},{"p":10,"s":"SAC+KIAN (Entropy Imbalance)","t":0.3,"y":0.4,"lo":0.05,"hi":0.75},{"p":10,"s":"SAC+KIAN (Entropy Imbalance)","t":0.35,"y":0.41,"lo":0.05,"hi":0.76},{"p":10,"s":"SAC+KIAN (Entropy Imbalance)","t":0.4,"y":0.41,"lo":0.05,"hi":0.77},{"p":10,"s":"SAC+KIAN (Entropy Imbalance)","t":0.45,"y":0.4,"lo":0.05,"hi":0.78},{"p":10,"s":"SAC+KIAN (Entropy Imbalance)","t":0.52,"y":0.4,"lo":0.05,"hi":0.78},{"p":10,"s":"SAC+KIAN (Entropy Imbalance)","t":0.6,"y":0.42,"lo":0.05,"hi":0.79},{"p":10,"s":"SAC+KIAN (Entropy Imbalance)","t":0.65,"y":0.42,"lo":0.05,"hi":0.79},{"p":10,"s":"SAC+KIAN (Entropy Imbalance)","t":0.71,"y":0.43,"lo":0.05,"hi":0.8},{"p":10,"s":"SAC+KIAN (Entropy Imbalance)","t":0.8,"y":0.44,"lo":0.05,"hi":0.8},{"p":10,"s":"SAC+KIAN (Entropy Imbalance)","t":0.9,"y":0.43,"lo":0.05,"hi":0.81},{"p":10,"s":"SAC+KIAN (Entropy Imbalance)","t":1,"y":0.44,"lo":0.05,"hi":0.81},
{"p":11,"s":"SAC+KIAN","t":0,"y":0.01,"lo":0,"hi":0.02},{"p":11,"s":"SAC+KIAN","t":0.03,"y":0.01,"lo":0,"hi":0.02},{"p":11,"s":"SAC+KIAN","t":0.05,"y":0.04,"lo":0.02,"hi":0.06},{"p":11,"s":"SAC+KIAN","t":0.07,"y":0.1,"lo":0.07,"hi":0.13},{"p":11,"s":"SAC+KIAN","t":0.1,"y":0.22,"lo":0.18,"hi":0.26},{"p":11,"s":"SAC+KIAN","t":0.12,"y":0.28,"lo":0.24,"hi":0.32},{"p":11,"s":"SAC+KIAN","t":0.14,"y":0.34,"lo":0.3,"hi":0.38},{"p":11,"s":"SAC+KIAN","t":0.16,"y":0.38,"lo":0.34,"hi":0.42},{"p":11,"s":"SAC+KIAN","t":0.18,"y":0.42,"lo":0.38,"hi":0.46},{"p":11,"s":"SAC+KIAN","t":0.2,"y":0.44,"lo":0.4,"hi":0.48},{"p":11,"s":"SAC+KIAN","t":0.22,"y":0.47,"lo":0.43,"hi":0.51},{"p":11,"s":"SAC+KIAN","t":0.25,"y":0.5,"lo":0.46,"hi":0.54},{"p":11,"s":"SAC+KIAN","t":0.27,"y":0.54,"lo":0.5,"hi":0.58},{"p":11,"s":"SAC+KIAN","t":0.3,"y":0.555,"lo":0.515,"hi":0.595},{"p":11,"s":"SAC+KIAN","t":0.33,"y":0.58,"lo":0.54,"hi":0.62},{"p":11,"s":"SAC+KIAN","t":0.37,"y":0.6,"lo":0.56,"hi":0.64},{"p":11,"s":"SAC+KIAN","t":0.4,"y":0.615,"lo":0.575,"hi":0.655},{"p":11,"s":"SAC+KIAN","t":0.45,"y":0.635,"lo":0.595,"hi":0.675},{"p":11,"s":"SAC+KIAN","t":0.5,"y":0.665,"lo":0.625,"hi":0.705},{"p":11,"s":"SAC+KIAN","t":0.55,"y":0.675,"lo":0.635,"hi":0.715},{"p":11,"s":"SAC+KIAN","t":0.59,"y":0.7,"lo":0.66,"hi":0.74},{"p":11,"s":"SAC+KIAN","t":0.64,"y":0.71,"lo":0.67,"hi":0.75},{"p":11,"s":"SAC+KIAN","t":0.68,"y":0.725,"lo":0.685,"hi":0.765},{"p":11,"s":"SAC+KIAN","t":0.73,"y":0.735,"lo":0.695,"hi":0.775},{"p":11,"s":"SAC+KIAN","t":0.78,"y":0.745,"lo":0.705,"hi":0.785},{"p":11,"s":"SAC+KIAN","t":0.83,"y":0.755,"lo":0.715,"hi":0.795},{"p":11,"s":"SAC+KIAN","t":0.87,"y":0.765,"lo":0.725,"hi":0.805},{"p":11,"s":"SAC+KIAN","t":0.92,"y":0.775,"lo":0.735,"hi":0.815},{"p":11,"s":"SAC+KIAN","t":0.96,"y":0.77,"lo":0.73,"hi":0.81},{"p":11,"s":"SAC+KIAN","t":1,"y":0.77,"lo":0.73,"hi":0.81},
{"p":11,"s":"SAC+KIAN (Entropy Imbalance)","t":0,"y":0,"lo":0,"hi":0.01},{"p":11,"s":"SAC+KIAN (Entropy Imbalance)","t":0.05,"y":0.02,"lo":0.01,"hi":0.03},{"p":11,"s":"SAC+KIAN (Entropy Imbalance)","t":0.1,"y":0.1,"lo":0.05,"hi":0.15},{"p":11,"s":"SAC+KIAN (Entropy Imbalance)","t":0.14,"y":0.2,"lo":0.09,"hi":0.3},{"p":11,"s":"SAC+KIAN (Entropy Imbalance)","t":0.18,"y":0.29,"lo":0.12,"hi":0.4},{"p":11,"s":"SAC+KIAN (Entropy Imbalance)","t":0.22,"y":0.36,"lo":0.14,"hi":0.47},{"p":11,"s":"SAC+KIAN (Entropy Imbalance)","t":0.26,"y":0.4,"lo":0.16,"hi":0.53},{"p":11,"s":"SAC+KIAN (Entropy Imbalance)","t":0.31,"y":0.43,"lo":0.19,"hi":0.58},{"p":11,"s":"SAC+KIAN (Entropy Imbalance)","t":0.35,"y":0.46,"lo":0.21,"hi":0.61},{"p":11,"s":"SAC+KIAN (Entropy Imbalance)","t":0.4,"y":0.49,"lo":0.23,"hi":0.64},{"p":11,"s":"SAC+KIAN (Entropy Imbalance)","t":0.45,"y":0.5,"lo":0.25,"hi":0.66},{"p":11,"s":"SAC+KIAN (Entropy Imbalance)","t":0.5,"y":0.51,"lo":0.26,"hi":0.68},{"p":11,"s":"SAC+KIAN (Entropy Imbalance)","t":0.55,"y":0.52,"lo":0.27,"hi":0.7},{"p":11,"s":"SAC+KIAN (Entropy Imbalance)","t":0.59,"y":0.54,"lo":0.27,"hi":0.71},{"p":11,"s":"SAC+KIAN (Entropy Imbalance)","t":0.64,"y":0.55,"lo":0.27,"hi":0.72},{"p":11,"s":"SAC+KIAN (Entropy Imbalance)","t":0.68,"y":0.56,"lo":0.27,"hi":0.73},{"p":11,"s":"SAC+KIAN (Entropy Imbalance)","t":0.73,"y":0.57,"lo":0.28,"hi":0.74},{"p":11,"s":"SAC+KIAN (Entropy Imbalance)","t":0.78,"y":0.58,"lo":0.29,"hi":0.75},{"p":11,"s":"SAC+KIAN (Entropy Imbalance)","t":0.85,"y":0.57,"lo":0.29,"hi":0.76},{"p":11,"s":"SAC+KIAN (Entropy Imbalance)","t":0.92,"y":0.59,"lo":0.29,"hi":0.76},{"p":11,"s":"SAC+KIAN (Entropy Imbalance)","t":1,"y":0.58,"lo":0.3,"hi":0.77}
]},
"data":{"name":"d"},
"config":{
 "font":"DejaVu Sans",
 "view":{"fill":"#EAEAF2","stroke":null},
 "axis":{"domain":false,"ticks":false,"tickSize":0,"gridColor":"#ffffff","gridWidth":1.2,"labelFont":"DejaVu Sans","labelFontSize":14,"labelColor":"#262626","labelPadding":10,"labelFlush":false,"labelOverlap":false,"titleFont":"DejaVu Sans","titleFontSize":14,"titleFontWeight":"normal","titleColor":"#262626"},
 "axisX":{"titlePadding":1},
 "axisY":{"titlePadding":3}
},
"spacing":26,
"center":true,
"resolve":{"scale":{"color":"independent","fill":"independent"},"legend":{"color":"independent","fill":"independent"}},
"vconcat":[
{"columns":4,"bounds":"flush","spacing":{"row":71,"column":65},
 "resolve":{"scale":{"color":"independent","fill":"independent"},"legend":{"color":"independent","fill":"independent"}},
 "concat":[
 {"width":198,"height":85,"transform":[{"filter":"datum.p==1"}],"resolve":{"axis":{"x":"independent","y":"independent"}},
  "layer":[
  {"mark":{"type":"area","opacity":0.22},"encoding":{
   "x":{"field":"t","type":"quantitative","scale":{"domain":[-0.4,8.4],"nice":false,"zero":false},"axis":{"values":[0,2.5,5,7.5],"format":".1f","title":"Timesteps"}},
   "y":{"field":"lo","type":"quantitative","scale":{"domain":[-0.048,1.008],"nice":false,"zero":false},"axis":{"values":[0,1],"format":"d","title":"Reward"}},
   "y2":{"field":"hi"},
   "fill":{"field":"s","type":"nominal","scale":{"range":["#2a7d78","#8fcab5"]},"legend":null}}},
  {"mark":{"type":"line","strokeWidth":1.3},"encoding":{
   "x":{"field":"t","type":"quantitative","axis":{"orient":"top","labels":false,"grid":false,"title":"Empty-Random-5x5","titleX":99,"titleY":-5,"titleAlign":"center","titleBaseline":"alphabetic","titleFontSize":14.5,"titleAngle":0}},
   "y":{"field":"y","type":"quantitative","axis":{"orient":"right","labels":false,"grid":false,"title":"1e4","titleX":0,"titleY":122,"titleAlign":"right","titleBaseline":"alphabetic","titleFontSize":9.5,"titleAngle":0}},
   "color":{"field":"s","type":"nominal","scale":{"domain":["PPO+KIAN","PPO+KIAN (Entropy Imbalance)"],"range":["#2a7d78","#9dd0bd"]},"legend":null}}}
 ]},
 {"width":198,"height":85,"transform":[{"filter":"datum.p==2"}],"resolve":{"axis":{"x":"independent","y":"independent"}},
  "layer":[
  {"mark":{"type":"area","opacity":0.22},"encoding":{
   "x":{"field":"t","type":"quantitative","scale":{"domain":[-0.15,3.15],"nice":false,"zero":false},"axis":{"values":[0,1,2,3],"format":"d","title":"Timesteps"}},
   "y":{"field":"lo","type":"quantitative","scale":{"domain":[-0.048,1.008],"nice":false,"zero":false},"axis":{"values":[0,1],"format":"d","title":"Reward"}},
   "y2":{"field":"hi"},
   "fill":{"field":"s","type":"nominal","scale":{"range":["#2a7d78","#8fcab5"]},"legend":null}}},
  {"mark":{"type":"line","strokeWidth":1.3},"encoding":{
   "x":{"field":"t","type":"quantitative","axis":{"orient":"top","labels":false,"grid":false,"title":"Unlock","titleX":99,"titleY":-5,"titleAlign":"center","titleBaseline":"alphabetic","titleFontSize":14.5,"titleAngle":0}},
   "y":{"field":"y","type":"quantitative","axis":{"orient":"right","labels":false,"grid":false,"title":"1e5","titleX":0,"titleY":122,"titleAlign":"right","titleBaseline":"alphabetic","titleFontSize":9.5,"titleAngle":0}},
   "color":{"field":"s","type":"nominal","scale":{"domain":["PPO+KIAN","PPO+KIAN (Entropy Imbalance)"],"range":["#2a7d78","#9dd0bd"]},
    "legend":{"orient":"none","legendX":-10,"legendY":-51,"direction":"horizontal","title":null,"symbolType":"M-1,0H3","symbolSize":225,"symbolStrokeWidth":1.5,"symbolOffset":3,"labelFont":"DejaVu Sans","labelFontSize":14.4,"labelColor":"#262626","labelOffset":27,"columnPadding":20,"padding":5,"fillColor":"#EEEEF4","strokeColor":"#D3D3D8","cornerRadius":4,"labelLimit":400}}}}
 ]},
 {"width":200,"height":85,"transform":[{"filter":"datum.p==3"}],"resolve":{"axis":{"x":"independent","y":"independent"}},
  "layer":[
  {"mark":{"type":"area","opacity":0.22},"encoding":{
   "x":{"field":"t","type":"quantitative","scale":{"domain":[-0.4,8.4],"nice":false,"zero":false},"axis":{"values":[0,2.5,5,7.5],"format":".1f","title":"Timesteps"}},
   "y":{"field":"lo","type":"quantitative","scale":{"domain":[-0.047,0.977],"nice":false,"zero":false},"axis":{"values":[0,0.5],"format":".1f","title":"Reward"}},
   "y2":{"field":"hi"},
   "fill":{"field":"s","type":"nominal","scale":{"range":["#2a7d78","#8fcab5"]},"legend":null}}},
  {"mark":{"type":"line","strokeWidth":1.3},"encoding":{
   "x":{"field":"t","type":"quantitative","axis":{"orient":"top","labels":false,"grid":false,"title":"DoorKey-5x5","titleX":100,"titleY":-5,"titleAlign":"center","titleBaseline":"alphabetic","titleFontSize":14.5,"titleAngle":0}},
   "y":{"field":"y","type":"quantitative","axis":{"orient":"right","labels":false,"grid":false,"title":"1e4","titleX":0,"titleY":122,"titleAlign":"right","titleBaseline":"alphabetic","titleFontSize":9.5,"titleAngle":0}},
   "color":{"field":"s","type":"nominal","scale":{"domain":["PPO+KIAN","PPO+KIAN (Entropy Imbalance)"],"range":["#2a7d78","#9dd0bd"]},"legend":null}}}
 ]},
 {"width":200,"height":85,"transform":[{"filter":"datum.p==4"}],"resolve":{"axis":{"x":"independent","y":"independent"}},
  "layer":[
  {"mark":{"type":"area","opacity":0.22},"encoding":{
   "x":{"field":"t","type":"quantitative","scale":{"domain":[-0.15,3.15],"nice":false,"zero":false},"axis":{"values":[0,1,2,3],"format":"d","title":"Timesteps"}},
   "y":{"field":"lo","type":"quantitative","scale":{"domain":[-0.05,1.02],"nice":false,"zero":false},"axis":{"values":[0,1],"format":"d","title":"Reward"}},
   "y2":{"field":"hi"},
   "fill":{"field":"s","type":"nominal","scale":{"range":["#2a7d78","#8fcab5"]},"legend":null}}},
  {"mark":{"type":"line","strokeWidth":1.3},"encoding":{
   "x":{"field":"t","type":"quantitative","axis":{"orient":"top","labels":false,"grid":false,"title":"DoorKey-8x8","titleX":100,"titleY":-5,"titleAlign":"center","titleBaseline":"alphabetic","titleFontSize":14.5,"titleAngle":0}},
   "y":{"field":"y","type":"quantitative","axis":{"orient":"right","labels":false,"grid":false,"title":"1e6","titleX":0,"titleY":122,"titleAlign":"right","titleBaseline":"alphabetic","titleFontSize":9.5,"titleAngle":0}},
   "color":{"field":"s","type":"nominal","scale":{"domain":["PPO+KIAN","PPO+KIAN (Entropy Imbalance)"],"range":["#2a7d78","#9dd0bd"]},"legend":null}}}
 ]},
 {"width":198,"height":85,"transform":[{"filter":"datum.p==5"}],"resolve":{"axis":{"x":"independent","y":"independent"}},
  "layer":[
  {"mark":{"type":"area","opacity":0.22},"encoding":{
   "x":{"field":"t","type":"quantitative","scale":{"domain":[-0.15,3.15],"nice":false,"zero":false},"axis":{"values":[0,1,2,3],"format":"d","title":"Timesteps"}},
   "y":{"field":"lo","type":"quantitative","scale":{"domain":[-1.08,1.06],"nice":false,"zero":false},"axis":{"values":[-1,0,1],"format":"d","title":"Reward"}},
   "y2":{"field":"hi"},
   "fill":{"field":"s","type":"nominal","scale":{"range":["#2a7d78","#8fcab5"]},"legend":null}}},
  {"mark":{"type":"line","strokeWidth":1.3},"encoding":{
   "x":{"field":"t","type":"quantitative","axis":{"orient":"top","labels":false,"grid":false,"title":"Dynamic-Obstacles-16x16","titleX":99,"titleY":-5,"titleAlign":"center","titleBaseline":"alphabetic","titleFontSize":14.5,"titleAngle":0}},
   "y":{"field":"y","type":"quantitative","axis":{"orient":"right","labels":false,"grid":false,"title":"1e5","titleX":0,"titleY":120,"titleAlign":"right","titleBaseline":"alphabetic","titleFontSize":9.5,"titleAngle":0}},
   "color":{"field":"s","type":"nominal","scale":{"domain":["PPO+KIAN","PPO+KIAN (Entropy Imbalance)"],"range":["#2a7d78","#9dd0bd"]},"legend":null}}}
 ]},
 {"width":198,"height":85,"transform":[{"filter":"datum.p==6"}],"resolve":{"axis":{"x":"independent","y":"independent"}},
  "layer":[
  {"mark":{"type":"area","opacity":0.22},"encoding":{
   "x":{"field":"t","type":"quantitative","scale":{"domain":[-0.25,5.25],"nice":false,"zero":false},"axis":{"values":[0,2,4],"format":"d","title":"Timesteps"}},
   "y":{"field":"lo","type":"quantitative","scale":{"domain":[-0.047,0.977],"nice":false,"zero":false},"axis":{"values":[0,0.5],"format":".1f","title":"Reward"}},
   "y2":{"field":"hi"},
   "fill":{"field":"s","type":"nominal","scale":{"range":["#2a7d78","#8fcab5"]},"legend":null}}},
  {"mark":{"type":"line","strokeWidth":1.3},"encoding":{
   "x":{"field":"t","type":"quantitative","axis":{"orient":"top","labels":false,"grid":false,"title":"LavaCrossingS9N2","titleX":99,"titleY":-5,"titleAlign":"center","titleBaseline":"alphabetic","titleFontSize":14.5,"titleAngle":0}},
   "y":{"field":"y","type":"quantitative","axis":{"orient":"right","labels":false,"grid":false,"title":"1e6","titleX":0,"titleY":120,"titleAlign":"right","titleBaseline":"alphabetic","titleFontSize":9.5,"titleAngle":0}},
   "color":{"field":"s","type":"nominal","scale":{"domain":["PPO+KIAN","PPO+KIAN (Entropy Imbalance)"],"range":["#2a7d78","#9dd0bd"]},"legend":null}}}
 ]},
 {"width":200,"height":85,"transform":[{"filter":"datum.p==7"}],"resolve":{"axis":{"x":"independent","y":"independent"}},
  "layer":[
  {"mark":{"type":"area","opacity":0.22},"encoding":{
   "x":{"field":"t","type":"quantitative","scale":{"domain":[-0.25,5.25],"nice":false,"zero":false},"axis":{"values":[0,2,4],"format":"d","title":"Timesteps"}},
   "y":{"field":"lo","type":"quantitative","scale":{"domain":[-0.035,0.708],"nice":false,"zero":false},"axis":{"values":[0,0.5],"format":".1f","title":"Reward"}},
   "y2":{"field":"hi"},
   "fill":{"field":"s","type":"nominal","scale":{"range":["#2a7d78","#8fcab5"]},"legend":null}}},
  {"mark":{"type":"line","strokeWidth":1.3},"encoding":{
   "x":{"field":"t","type":"quantitative","axis":{"orient":"top","labels":false,"grid":false,"title":"MultiRoom-N4-S5","titleX":100,"titleY":-5,"titleAlign":"center","titleBaseline":"alphabetic","titleFontSize":14.5,"titleAngle":0}},
   "y":{"field":"y","type":"quantitative","axis":{"orient":"right","labels":false,"grid":false,"title":"1e5","titleX":0,"titleY":120,"titleAlign":"right","titleBaseline":"alphabetic","titleFontSize":9.5,"titleAngle":0}},
   "color":{"field":"s","type":"nominal","scale":{"domain":["PPO+KIAN","PPO+KIAN (Entropy Imbalance)"],"range":["#2a7d78","#9dd0bd"]},"legend":null}}}
 ]},
 {"width":200,"height":85,"transform":[{"filter":"datum.p==8"}],"resolve":{"axis":{"x":"independent","y":"independent"}},
  "layer":[
  {"mark":{"type":"area","opacity":0.22},"encoding":{
   "x":{"field":"t","type":"quantitative","scale":{"domain":[-0.05,1.05],"nice":false,"zero":false},"axis":{"values":[0,0.5,1],"format":".1f","title":"Timesteps"}},
   "y":{"field":"lo","type":"quantitative","scale":{"domain":[-0.043,0.875],"nice":false,"zero":false},"axis":{"values":[0,0.5],"format":".1f","title":"Reward"}},
   "y2":{"field":"hi"},
   "fill":{"field":"s","type":"nominal","scale":{"range":["#2a7d78","#8fcab5"]},"legend":null}}},
  {"mark":{"type":"line","strokeWidth":1.3},"encoding":{
   "x":{"field":"t","type":"quantitative","axis":{"orient":"top","labels":false,"grid":false,"title":"KeyCorridorS3R2","titleX":100,"titleY":-5,"titleAlign":"center","titleBaseline":"alphabetic","titleFontSize":14.5,"titleAngle":0}},
   "y":{"field":"y","type":"quantitative","axis":{"orient":"right","labels":false,"grid":false,"title":"1e6","titleX":0,"titleY":120,"titleAlign":"right","titleBaseline":"alphabetic","titleFontSize":9.5,"titleAngle":0}},
   "color":{"field":"s","type":"nominal","scale":{"domain":["PPO+KIAN","PPO+KIAN (Entropy Imbalance)"],"range":["#2a7d78","#9dd0bd"]},"legend":null}}}
 ]}
 ]},
{"bounds":"flush","spacing":82,
 "resolve":{"scale":{"color":"independent","fill":"independent"},"legend":{"color":"independent","fill":"independent"}},
 "hconcat":[
 {"width":192,"height":81,"transform":[{"filter":"datum.p==9"}],"resolve":{"axis":{"x":"independent","y":"independent"}},
  "layer":[
  {"mark":{"type":"area","opacity":0.22},"encoding":{
   "x":{"field":"t","type":"quantitative","scale":{"domain":[-0.05,1.05],"nice":false,"zero":false},"axis":{"values":[0,0.5,1],"format":".1f","title":"Timesteps"}},
   "y":{"field":"lo","type":"quantitative","scale":{"domain":[-0.045,1.054],"nice":false,"zero":false},"axis":{"values":[0,1],"format":"d","title":"Reward"}},
   "y2":{"field":"hi"},
   "fill":{"field":"s","type":"nominal","scale":{"range":["#2a7d78","#8fcab5"]},"legend":null}}},
  {"mark":{"type":"line","strokeWidth":1.3},"encoding":{
   "x":{"field":"t","type":"quantitative","axis":{"orient":"top","labels":false,"grid":false,"title":"Pick-and-Place","titleX":96,"titleY":-5,"titleAlign":"center","titleBaseline":"alphabetic","titleFontSize":14.5,"titleAngle":0}},
   "y":{"field":"y","type":"quantitative","axis":{"orient":"right","labels":false,"grid":false,"title":"1e6","titleX":0,"titleY":115,"titleAlign":"right","titleBaseline":"alphabetic","titleFontSize":9.5,"titleAngle":0}},
   "color":{"field":"s","type":"nominal","scale":{"domain":["SAC+KIAN","SAC+KIAN (Entropy Imbalance)"],"range":["#2a7d78","#9dd0bd"]},"legend":null}}}
 ]},
 {"width":185,"height":81,"transform":[{"filter":"datum.p==10"}],"resolve":{"axis":{"x":"independent","y":"independent"}},
  "layer":[
  {"mark":{"type":"area","opacity":0.22},"encoding":{
   "x":{"field":"t","type":"quantitative","scale":{"domain":[-0.05,1.05],"nice":false,"zero":false},"axis":{"values":[0,0.5,1],"format":".1f","title":"Timesteps"}},
   "y":{"field":"lo","type":"quantitative","scale":{"domain":[-0.045,1.054],"nice":false,"zero":false},"axis":{"values":[0,1],"format":"d","title":"Reward"}},
   "y2":{"field":"hi"},
   "fill":{"field":"s","type":"nominal","scale":{"range":["#2a7d78","#8fcab5"]},"legend":null}}},
  {"mark":{"type":"line","strokeWidth":1.3},"encoding":{
   "x":{"field":"t","type":"quantitative","axis":{"orient":"top","labels":false,"grid":false,"title":"Push","titleX":92,"titleY":-5,"titleAlign":"center","titleBaseline":"alphabetic","titleFontSize":14.5,"titleAngle":0}},
   "y":{"field":"y","type":"quantitative","axis":{"orient":"right","labels":false,"grid":false,"title":"1e6","titleX":0,"titleY":115,"titleAlign":"right","titleBaseline":"alphabetic","titleFontSize":9.5,"titleAngle":0}},
   "color":{"field":"s","type":"nominal","scale":{"domain":["SAC+KIAN","SAC+KIAN (Entropy Imbalance)"],"range":["#2a7d78","#9dd0bd"]},
    "legend":{"orient":"none","legendX":-152,"legendY":-46,"direction":"horizontal","title":null,"symbolType":"M-1,0H3","symbolSize":225,"symbolStrokeWidth":1.5,"symbolOffset":3,"labelFont":"DejaVu Sans","labelFontSize":14.4,"labelColor":"#262626","labelOffset":27,"columnPadding":20,"padding":5,"fillColor":"#EEEEF4","strokeColor":"#D3D3D8","cornerRadius":4,"labelLimit":400}}}}
 ]},
 {"width":191,"height":81,"transform":[{"filter":"datum.p==11"}],"resolve":{"axis":{"x":"independent","y":"independent"}},
  "layer":[
  {"mark":{"type":"area","opacity":0.22},"encoding":{
   "x":{"field":"t","type":"quantitative","scale":{"domain":[-0.05,1.05],"nice":false,"zero":false},"axis":{"values":[0,0.5,1],"format":".1f","title":"Timesteps"}},
   "y":{"field":"lo","type":"quantitative","scale":{"domain":[-0.03,0.875],"nice":false,"zero":false},"axis":{"values":[0,0.5],"format":".1f","title":"Reward"}},
   "y2":{"field":"hi"},
   "fill":{"field":"s","type":"nominal","scale":{"range":["#2a7d78","#8fcab5"]},"legend":null}}},
  {"mark":{"type":"line","strokeWidth":1.3},"encoding":{
   "x":{"field":"t","type":"quantitative","axis":{"orient":"top","labels":false,"grid":false,"title":"Slide","titleX":95,"titleY":-5,"titleAlign":"center","titleBaseline":"alphabetic","titleFontSize":14.5,"titleAngle":0}},
   "y":{"field":"y","type":"quantitative","axis":{"orient":"right","labels":false,"grid":false,"title":"1e6","titleX":0,"titleY":115,"titleAlign":"right","titleBaseline":"alphabetic","titleFontSize":9.5,"titleAngle":0}},
   "color":{"field":"s","type":"nominal","scale":{"domain":["SAC+KIAN","SAC+KIAN (Entropy Imbalance)"],"range":["#2a7d78","#9dd0bd"]},"legend":null}}}
 ]}
 ]}
]
}
